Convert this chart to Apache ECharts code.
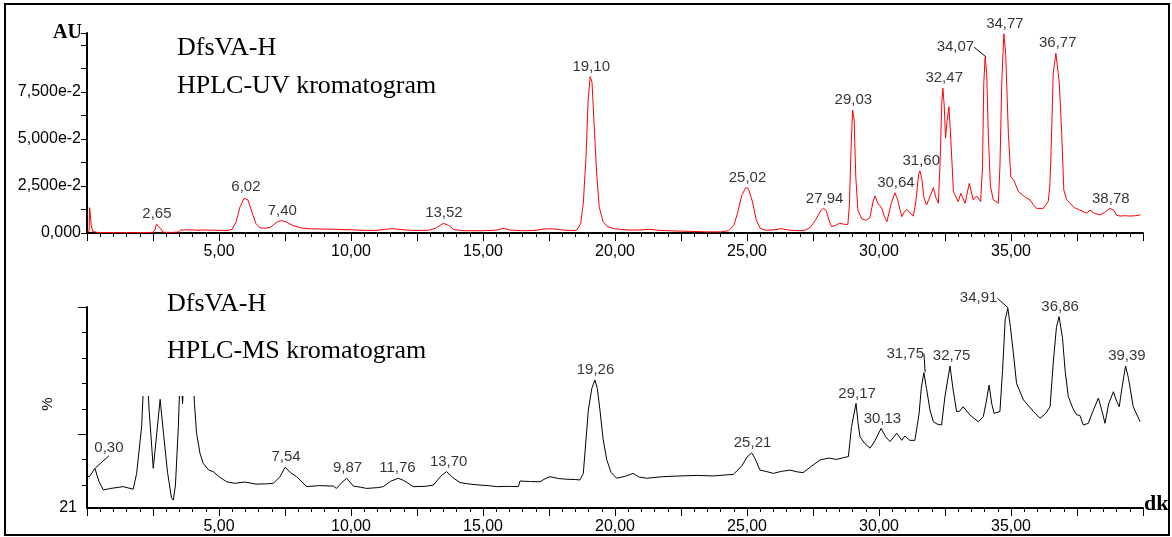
<!DOCTYPE html>
<html>
<head>
<meta charset="utf-8">
<script src="https://cdn.jsdelivr.net/npm/echarts@6.0.0/dist/echarts.min.js"></script>
<style>
html, body { margin: 0; padding: 0; background: #fff; }
#chart { width: 1172px; height: 537px; }
</style>
</head>
<body>
<div id="chart"></div>
<script>
// retention time (dk) / absorbance (AU)
var uvTrace = [
    [0.00, 0.0005], [0.08, 0.0010], [0.10, 0.0135], [0.13, 0.0138], [0.16, 0.0040], [0.22, 0.0008],
    [0.40, 0.0003], [1.00, 0.0002], [2.00, 0.0002], [2.50, 0.0003], [2.58, 0.0020], [2.63, 0.0048],
    [2.70, 0.0035], [2.78, 0.0025], [2.88, 0.0004], [3.20, 0.0003], [3.45, 0.0005], [3.55, 0.0016],
    [4.00, 0.0017], [4.20, 0.0014], [4.30, 0.0016], [4.80, 0.0015], [5.30, 0.0013], [5.50, 0.0020],
    [5.65, 0.0060], [5.80, 0.0140], [5.95, 0.0185], [6.02, 0.0190], [6.10, 0.0175], [6.25, 0.0110],
    [6.40, 0.0050], [6.55, 0.0028], [6.75, 0.0025], [6.95, 0.0030], [7.10, 0.0048], [7.25, 0.0062],
    [7.38, 0.0066], [7.55, 0.0058], [7.80, 0.0040], [8.10, 0.0027], [8.50, 0.0022], [9.00, 0.0021],
    [9.50, 0.0019], [10.00, 0.0017], [10.50, 0.0014], [11.00, 0.0014], [11.30, 0.0020], [11.60, 0.0023],
    [11.90, 0.0018], [12.30, 0.0014], [12.90, 0.0014], [13.20, 0.0025], [13.50, 0.0052], [13.70, 0.0040],
    [13.90, 0.0018], [14.30, 0.0012], [15.00, 0.0012], [15.50, 0.0015], [15.76, 0.0025], [16.00, 0.0016],
    [16.50, 0.0012], [17.00, 0.0014], [17.30, 0.0021], [17.60, 0.0023], [17.90, 0.0018], [18.30, 0.0013],
    [18.55, 0.0015], [18.70, 0.0050], [18.80, 0.0160], [18.90, 0.0400], [18.98, 0.0700], [19.06, 0.0832],
    [19.13, 0.0800], [19.20, 0.0600], [19.30, 0.0330], [19.40, 0.0140], [19.55, 0.0060], [19.70, 0.0035],
    [20.00, 0.0022], [20.50, 0.0016], [21.00, 0.0016], [21.30, 0.0020], [21.60, 0.0015], [22.00, 0.0012],
    [22.50, 0.0010], [23.00, 0.0008], [23.50, 0.0006], [24.00, 0.0006], [24.30, 0.0012], [24.50, 0.0040],
    [24.65, 0.0110], [24.80, 0.0200], [24.95, 0.0240], [25.05, 0.0238], [25.20, 0.0170], [25.35, 0.0070],
    [25.50, 0.0025], [25.70, 0.0015], [26.00, 0.0017], [26.30, 0.0023], [26.60, 0.0015], [27.00, 0.0012],
    [27.20, 0.0015], [27.40, 0.0030], [27.60, 0.0070], [27.80, 0.0120], [27.90, 0.0131], [28.00, 0.0120],
    [28.10, 0.0070], [28.20, 0.0035], [28.35, 0.0040], [28.50, 0.0052], [28.70, 0.0046], [28.82, 0.0045],
    [28.88, 0.0150], [28.94, 0.0450], [29.00, 0.0654], [29.06, 0.0600], [29.12, 0.0300], [29.20, 0.0122],
    [29.35, 0.0075], [29.50, 0.0068], [29.65, 0.0080], [29.78, 0.0170], [29.85, 0.0197], [29.95, 0.0160],
    [30.10, 0.0133], [30.20, 0.0090], [30.30, 0.0060], [30.45, 0.0150], [30.60, 0.0214], [30.70, 0.0180],
    [30.86, 0.0087], [30.95, 0.0110], [31.05, 0.0126], [31.15, 0.0110], [31.30, 0.0090], [31.40, 0.0170],
    [31.50, 0.0310], [31.55, 0.0331], [31.62, 0.0290], [31.70, 0.0190], [31.80, 0.0149], [31.95, 0.0200],
    [32.06, 0.0241], [32.15, 0.0190], [32.25, 0.0158], [32.32, 0.0400], [32.38, 0.0700], [32.42, 0.0770],
    [32.47, 0.0680], [32.52, 0.0504], [32.58, 0.0600], [32.65, 0.0672], [32.72, 0.0500], [32.82, 0.0220],
    [33.00, 0.0167], [33.10, 0.0211], [33.26, 0.0158], [33.42, 0.0264], [33.57, 0.0176], [33.70, 0.0197],
    [33.85, 0.0167], [33.92, 0.0350], [33.97, 0.0800], [34.02, 0.0935], [34.08, 0.0850], [34.14, 0.0530],
    [34.22, 0.0250], [34.33, 0.0176], [34.52, 0.0158], [34.58, 0.0350], [34.65, 0.0800], [34.73, 0.1060],
    [34.80, 0.0950], [34.90, 0.0530], [34.99, 0.0300], [35.11, 0.0280], [35.28, 0.0220], [35.45, 0.0200],
    [35.60, 0.0185], [35.72, 0.0176], [35.85, 0.0150], [35.97, 0.0131], [36.22, 0.0131], [36.41, 0.0167],
    [36.47, 0.0250], [36.52, 0.0440], [36.60, 0.0850], [36.70, 0.0956], [36.83, 0.0796], [36.92, 0.0530],
    [37.00, 0.0229], [37.10, 0.0180], [37.23, 0.0158], [37.40, 0.0135], [37.60, 0.0122], [37.87, 0.0105],
    [37.99, 0.0122], [38.15, 0.0105], [38.37, 0.0096], [38.55, 0.0110], [38.75, 0.0131], [38.90, 0.0120],
    [39.00, 0.0095], [39.13, 0.0090], [39.30, 0.0092], [39.50, 0.0090], [39.70, 0.0092], [39.90, 0.0096]
];

// retention time (dk) / relative intensity (%)
var msTrace = [
    [0.00, 33.5], [0.09, 33.3], [0.14, 32.7], [0.30, 36.6], [0.45, 31.5], [0.62, 28.1], [0.90, 28.7],
    [1.37, 29.4], [1.75, 28.4], [1.88, 34.6], [2.07, 53.0], [2.22, 88.0], [2.35, 60.0], [2.51, 36.6],
    [2.62, 48.0], [2.77, 63.7], [2.90, 50.0], [3.05, 35.0], [3.20, 25.0], [3.27, 24.1], [3.35, 30.0],
    [3.46, 53.0], [3.55, 80.0], [3.62, 62.0], [3.68, 75.0], [3.85, 92.0], [4.00, 80.0], [4.07, 62.0],
    [4.15, 50.4], [4.28, 42.5], [4.40, 38.6], [4.60, 36.0], [4.78, 35.3], [5.00, 33.3], [5.29, 31.3],
    [5.60, 30.7], [5.98, 31.2], [6.40, 30.4], [6.80, 30.5], [7.06, 30.7], [7.31, 33.3], [7.50, 37.0],
    [7.70, 35.0], [7.94, 33.3], [8.32, 29.4], [8.80, 29.8], [9.33, 29.6], [9.45, 28.7], [9.65, 31.0],
    [9.84, 32.7], [10.09, 29.6], [10.35, 29.2], [10.59, 28.7], [11.00, 29.0], [11.22, 29.4], [11.50, 31.5],
    [11.79, 32.7], [12.00, 31.8], [12.36, 29.4], [12.80, 29.5], [13.12, 30.0], [13.40, 33.5], [13.62, 35.3],
    [13.85, 33.0], [14.13, 31.0], [14.50, 30.4], [14.89, 30.0], [15.20, 29.8], [15.52, 29.4], [16.00, 29.5],
    [16.34, 29.4], [16.40, 31.6], [16.80, 31.4], [17.16, 31.3], [17.35, 32.5], [17.54, 33.3], [17.85, 32.6],
    [18.17, 32.3], [18.50, 32.2], [18.67, 32.0], [18.80, 34.6], [18.99, 59.5], [19.12, 68.0], [19.24, 71.3],
    [19.33, 68.0], [19.43, 59.5], [19.55, 48.0], [19.69, 39.9], [19.85, 35.0], [20.06, 32.7], [20.40, 33.5],
    [20.69, 34.6], [20.90, 33.2], [21.20, 32.7], [21.80, 33.3], [22.46, 33.6], [23.10, 33.8], [23.72, 33.6],
    [24.20, 34.0], [24.48, 34.2], [24.80, 37.5], [25.00, 41.0], [25.18, 42.7], [25.30, 40.5], [25.49, 35.9],
    [25.75, 35.3], [26.00, 34.6], [26.30, 35.4], [26.63, 35.9], [26.90, 35.2], [27.13, 34.9], [27.45, 37.5],
    [27.77, 39.9], [28.10, 40.6], [28.40, 40.1], [28.65, 40.8], [28.84, 41.2], [28.96, 53.0], [29.13, 62.1],
    [29.20, 55.0], [29.28, 49.0], [29.45, 46.5], [29.66, 44.5], [29.85, 47.5], [30.08, 52.3], [30.25, 49.0],
    [30.42, 47.1], [30.67, 50.4], [30.86, 47.6], [30.98, 49.3], [31.17, 47.6], [31.36, 47.6], [31.52, 58.2],
    [31.60, 68.0], [31.70, 74.2], [31.80, 68.0], [31.93, 59.5], [32.06, 54.9], [32.20, 54.0], [32.37, 53.6],
    [32.50, 65.0], [32.69, 76.8], [32.80, 68.0], [32.94, 58.9], [33.05, 59.0], [33.19, 60.8], [33.45, 57.5],
    [33.76, 54.9], [33.95, 56.9], [34.05, 62.0], [34.17, 69.3], [34.27, 62.0], [34.36, 58.2], [34.58, 58.9],
    [34.68, 75.0], [34.78, 95.0], [34.88, 99.5], [34.98, 92.0], [35.09, 81.8], [35.21, 70.0], [35.47, 63.5],
    [35.85, 58.9], [36.10, 56.3], [36.30, 58.0], [36.48, 60.8], [36.60, 78.0], [36.72, 92.0], [36.82, 96.2],
    [36.95, 88.0], [37.05, 75.0], [37.17, 64.8], [37.35, 60.0], [37.49, 57.6], [37.61, 57.4], [37.74, 53.6],
    [37.93, 54.3], [38.10, 59.0], [38.31, 64.2], [38.45, 59.0], [38.56, 54.3], [38.70, 62.0], [38.88, 66.7],
    [39.00, 63.0], [39.10, 60.8], [39.20, 68.0], [39.34, 76.8], [39.45, 72.0], [39.63, 60.8], [39.89, 54.9]
];

var uvPeakTimes = [2.65, 6.02, 7.40, 13.52, 19.10, 25.02, 27.94, 29.03, 30.64, 31.60, 32.47, 34.07, 34.77, 36.77, 38.78];
var uvPeakHeights = [0.0048, 0.0190, 0.0066, 0.0052, 0.0832, 0.0241, 0.0131, 0.0654, 0.0214, 0.0331, 0.0770, 0.0935, 0.1060, 0.0956, 0.0131];
var msPeakTimes = [0.30, 7.54, 9.87, 11.76, 13.70, 19.26, 25.21, 29.17, 30.13, 31.75, 32.75, 34.91, 36.86, 39.39];
var msPeakHeights = [36.6, 37.0, 32.7, 32.7, 35.3, 71.3, 42.7, 62.1, 52.3, 74.2, 76.8, 99.5, 96.2, 76.8];

var timeTicks = [5, 10, 15, 20, 25, 30, 35];
var timeTickLabels = ['5,00', '10,00', '15,00', '20,00', '25,00', '30,00', '35,00'];
var uvTicks = [0, 0.025, 0.05, 0.075];
var uvTickLabels = ['0,000', '2,500e-2', '5,000e-2', '7,500e-2'];
var msTicks = [30, 40, 50, 60, 70, 80, 90, 100];
var msLongTicks = [50, 100];
var msLabelTicks = [21];
var msTickLabels = ['21'];

var sans = 'Liberation Sans',
    serif = 'Liberation Serif',
    labelShift = { '34,07': [-31, 0], '0,30': [14, -10], '31,75': [-20, -9], '34,91': [-30, 0] };

function fmtTime(v) {
    return v.toFixed(2).replace('.', ',');
}

function lookup(values, labels) {
    return function(v) {
        for (var i = 0; i < values.length; i++) {
            if (Math.abs(values[i] - v) < 1e-9) return labels[i];
        }
        return '';
    };
}

function timeAxis(gridIndex) {
    return {
        type: 'value', gridIndex: gridIndex, min: 0, max: 40, interval: 2.5,
        axisLine: { onZero: false, lineStyle: { color: '#000', width: 2 } },
        axisTick: { length: 8, lineStyle: { color: '#000', width: 1 } },
        minorTick: { show: true, splitNumber: 5, length: 4, lineStyle: { color: '#000', width: 1 } },
        splitLine: { show: false },
        axisLabel: {
            customValues: timeTicks, formatter: lookup(timeTicks, timeTickLabels),
            color: '#000', fontFamily: sans, fontSize: 16, margin: 11
        }
    };
}

function peakSeries(times, heights, xi, yi) {
    return {
        type: 'scatter', xAxisIndex: xi, yAxisIndex: yi, symbolSize: 1, silent: true,
        itemStyle: { color: 'rgba(0,0,0,0)' },
        data: times.map(function(t, i) {
            return { value: [t, heights[i]], labelLine: { show: !!labelShift[fmtTime(t)] } };
        }),
        label: {
            show: true, position: 'top', distance: 2, color: '#000', fontFamily: sans, fontSize: 15,
            formatter: function(p) { return fmtTime(p.value[0]); }
        },
        labelLine: { lineStyle: { color: '#000', width: 1 } },
        labelLayout: function(p) {
            var s = labelShift[p.text];
            return s ? { dx: s[0], dy: s[1] } : {};
        }
    };
}

var chart = echarts.init(document.getElementById('chart'));

chart.setOption({
    animation: false,
    backgroundColor: '#fff',
    grid: [
        { left: 87, top: 33, width: 1056, height: 200 },
        { left: 87, top: 307, width: 1056, height: 201 }
    ],
    xAxis: [timeAxis(0), timeAxis(1)],
    yAxis: [{
        type: 'value', gridIndex: 0, min: 0, max: 0.1064, interval: 0.0125,
        axisLine: { show: true, lineStyle: { color: '#000', width: 2 } },
        axisTick: { show: true, length: 6, lineStyle: { color: '#000' } },
        splitLine: { show: false },
        axisLabel: {
            customValues: uvTicks, formatter: lookup(uvTicks, uvTickLabels),
            color: '#000', fontFamily: sans, fontSize: 16, margin: 6
        }
    }, {
        type: 'value', gridIndex: 1, min: 21, max: 100,
        axisLine: { show: true, lineStyle: { color: '#000', width: 2 } },
        axisTick: { show: true, customValues: msTicks, length: 5, lineStyle: { color: '#000' } },
        splitLine: { show: false },
        axisLabel: {
            customValues: msLabelTicks, formatter: lookup(msLabelTicks, msTickLabels),
            color: '#000', fontFamily: sans, fontSize: 16, margin: 10
        }
    }, {
        type: 'value', gridIndex: 1, min: 21, max: 100, position: 'left',
        axisLine: { show: false },
        axisTick: { show: true, customValues: msLongTicks, length: 9, lineStyle: { color: '#000' } },
        axisLabel: { show: false },
        splitLine: { show: false }
    }],
    series: [{
        type: 'line', xAxisIndex: 0, yAxisIndex: 0, data: uvTrace, showSymbol: false, silent: true,
        lineStyle: { color: '#ff0000', width: 1 }
    }, peakSeries(uvPeakTimes, uvPeakHeights, 0, 0), {
        type: 'line', xAxisIndex: 1, yAxisIndex: 1, data: msTrace, showSymbol: false, silent: true,
        lineStyle: { color: '#000', width: 1 }
    }, peakSeries(msPeakTimes, msPeakHeights, 1, 1)],
    graphic: [
        { type: 'rect', z: 100, shape: { x: 5, y: 4, width: 1164, height: 531 },
          style: { fill: 'none', stroke: '#000', lineWidth: 2 } },
        { type: 'rect', z: 50, shape: { x: 125, y: 278, width: 330, height: 118 },
          style: { fill: '#fff' } },
        { type: 'text', z: 60, style: { text: 'DfsVA-H', x: 177, y: 48, fill: '#000',
          font: '26px "' + serif + '"', textAlign: 'left', textVerticalAlign: 'middle' } },
        { type: 'text', z: 60, style: { text: 'HPLC-UV kromatogram', x: 177, y: 86, fill: '#000',
          font: '26px "' + serif + '"', textAlign: 'left', textVerticalAlign: 'middle' } },
        { type: 'text', z: 60, style: { text: 'DfsVA-H', x: 167, y: 304, fill: '#000',
          font: '26px "' + serif + '"', textAlign: 'left', textVerticalAlign: 'middle' } },
        { type: 'text', z: 60, style: { text: 'HPLC-MS kromatogram', x: 167, y: 351, fill: '#000',
          font: '26px "' + serif + '"', textAlign: 'left', textVerticalAlign: 'middle' } },
        { type: 'text', z: 60, style: { text: 'AU', x: 82, y: 33, fill: '#000',
          font: 'bold 20px "' + serif + '"', textAlign: 'right', textVerticalAlign: 'middle' } },
        { type: 'text', z: 60, style: { text: 'dk', x: 1144, y: 504, fill: '#000',
          font: 'bold 22px "' + serif + '"', textAlign: 'left', textVerticalAlign: 'middle' } },
        { type: 'text', z: 60, x: 48, y: 404, rotation: Math.PI / 2,
          style: { text: '%', x: 0, y: 0, fill: '#000', font: '15px "' + sans + '"',
          textAlign: 'center', textVerticalAlign: 'middle' } }
    ]
});
</script>
</body>
</html>
